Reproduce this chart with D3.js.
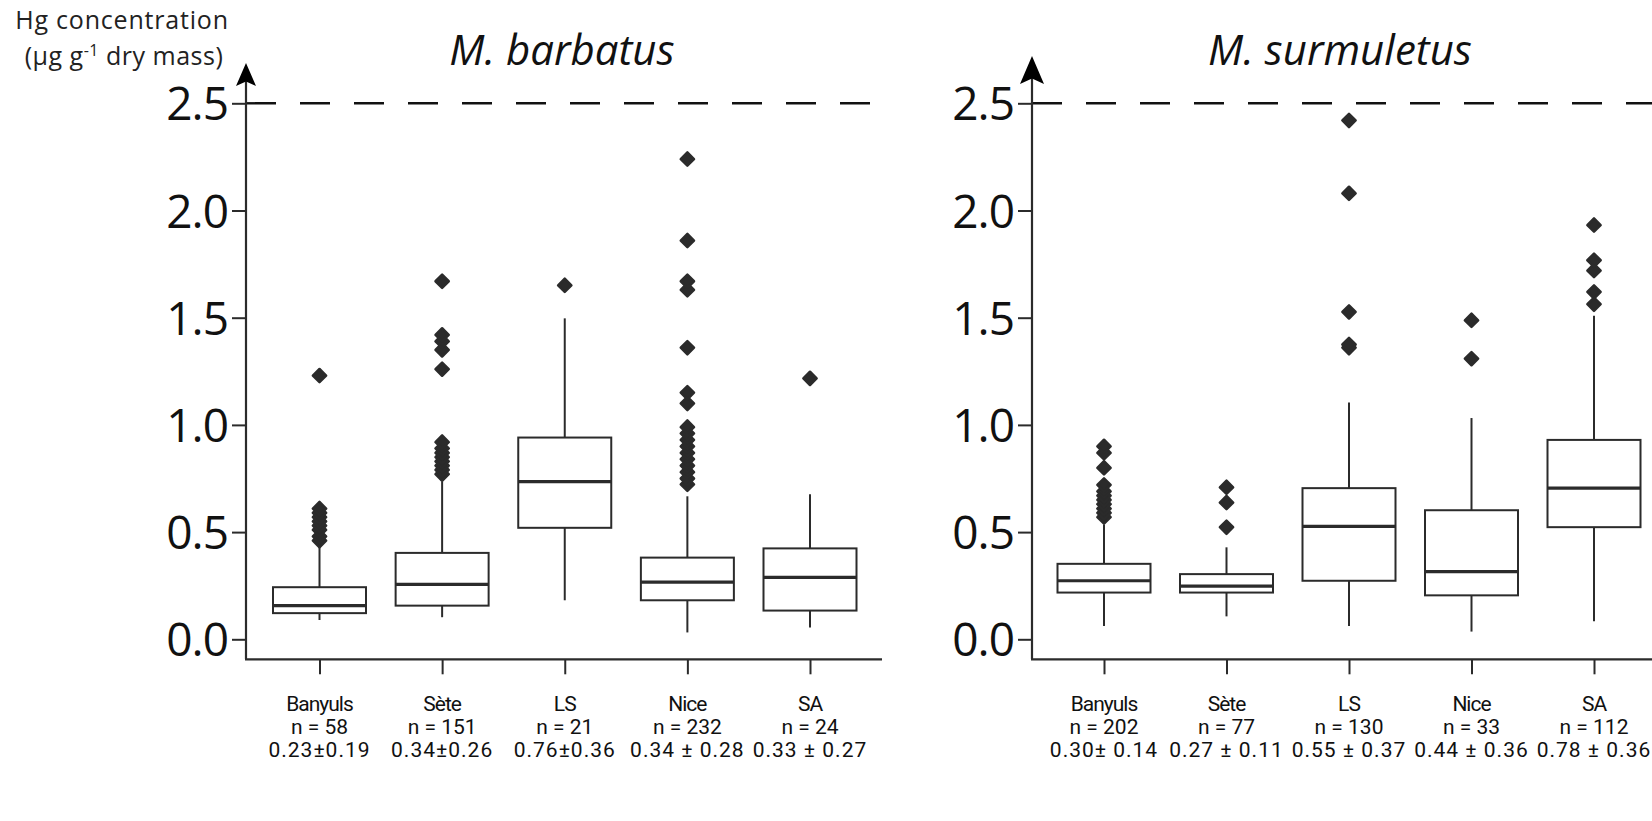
<!DOCTYPE html>
<html>
<head>
<meta charset="utf-8">
<script src="https://cdn.jsdelivr.net/npm/d3@7"></script>
<style>
  body { margin: 0; background: #fff; }
  svg { display: block; }
</style>
</head>
<body>
<svg id="chart" width="1652" height="821"></svg>
<script>
// categories and tick values
var sites = ["Banyuls", "Sète", "LS", "Nice", "SA"];
var yTicks = [0, 0.5, 1.0, 1.5, 2.0, 2.5];
var limitValue = 2.5;

// M. barbatus
var barbatusN = [58, 151, 21, 232, 24];
var barbatusMean = ["0.23±0.19", "0.34±0.26", "0.76±0.36", "0.34 ± 0.28", "0.33 ± 0.27"];
var barbatusLow = [0.09, 0.103, 0.182, 0.032, 0.055];
var barbatusQ1 = [0.122, 0.157, 0.52, 0.182, 0.134];
var barbatusMed = [0.157, 0.256, 0.735, 0.267, 0.289];
var barbatusQ3 = [0.243, 0.403, 0.941, 0.381, 0.424];
var barbatusHigh = [0.443, 0.735, 1.497, 0.667, 0.677];
var barbatusOut = [
  [0.46, 0.48, 0.51, 0.53, 0.55, 0.57, 0.59, 0.61, 1.23],
  [0.77, 0.79, 0.81, 0.83, 0.85, 0.87, 0.89, 0.92, 1.26, 1.35, 1.39, 1.42, 1.67],
  [1.651],
  [0.723, 0.75, 0.78, 0.81, 0.84, 0.87, 0.90, 0.93, 0.96, 0.99, 1.10, 1.15, 1.36, 1.63, 1.67, 1.86, 2.24],
  [1.217]
];

// M. surmuletus
var surmuletusN = [202, 77, 130, 33, 112];
var surmuletusMean = ["0.30± 0.14", "0.27 ± 0.11", "0.55 ± 0.37", "0.44 ± 0.36", "0.78 ± 0.36"];
var surmuletusLow = [0.0625, 0.107, 0.0625, 0.036, 0.084];
var surmuletusQ1 = [0.218, 0.218, 0.273, 0.205, 0.523];
var surmuletusMed = [0.273, 0.248, 0.527, 0.316, 0.705];
var surmuletusQ3 = [0.352, 0.304, 0.705, 0.602, 0.93];
var surmuletusHigh = [0.536, 0.429, 1.104, 1.032, 1.509];
var surmuletusOut = [
  [0.57, 0.59, 0.61, 0.63, 0.65, 0.67, 0.69, 0.72, 0.80, 0.87, 0.90],
  [0.523, 0.638, 0.709],
  [1.36, 1.375, 1.527, 2.08, 2.42],
  [1.309, 1.488],
  [1.563, 1.62, 1.72, 1.768, 1.932]
];

var ink = "#2b2b2b";
var svg = d3.select("#chart");

var y = d3.scaleLinear().domain([0, 2.5]).range([639.3, 103.3]);
var xAxisY = 659.3;
var boxWidth = 93;

var panels = [
  { title: "M. barbatus", titleX: 562, axisX: 246, xEnd: 882, dashEnd: 874, first: 319.5, last: 810,
    arrowTip: 63, arrowH: 23, arrowW: 20,
    n: barbatusN, mean: barbatusMean, low: barbatusLow, q1: barbatusQ1, med: barbatusMed,
    q3: barbatusQ3, high: barbatusHigh, out: barbatusOut },
  { title: "M. surmuletus", titleX: 1340, axisX: 1032, xEnd: 1652, dashEnd: 1652, first: 1104, last: 1594,
    arrowTip: 56, arrowH: 28, arrowW: 24,
    n: surmuletusN, mean: surmuletusMean, low: surmuletusLow, q1: surmuletusQ1, med: surmuletusMed,
    q3: surmuletusQ3, high: surmuletusHigh, out: surmuletusOut }
];

// y axis title, two lines
var titleFont = { family: "'Open Sans', sans-serif", size: "25px" };
svg.append("text")
  .attr("x", 122).attr("y", 29)
  .attr("text-anchor", "middle")
  .style("font-family", titleFont.family)
  .style("font-size", titleFont.size)
  .style("letter-spacing", "0.8px")
  .style("fill", "#222")
  .text("Hg concentration");
var line2 = svg.append("text")
  .attr("x", 124).attr("y", 65)
  .attr("text-anchor", "middle")
  .style("font-family", titleFont.family)
  .style("font-size", titleFont.size)
  .style("letter-spacing", "0.5px")
  .style("fill", "#222");
line2.append("tspan").text("(µg g");
line2.append("tspan").attr("dy", -9).style("font-size", "16px").text("-1");
line2.append("tspan").attr("dy", 9).text(" dry mass)");

panels.forEach(function (p) {
  var g = svg.append("g");
  var x = d3.scalePoint().domain(sites).range([p.first, p.last]);

  // title
  g.append("text")
    .attr("x", p.titleX)
    .attr("y", 65)
    .attr("text-anchor", "middle")
    .style("font-family", "'Open Sans', sans-serif")
    .style("font-style", "italic")
    .style("font-size", "42px")
    .style("fill", "#111")
    .text(p.title);

  // limit line
  g.append("line")
    .attr("x1", p.axisX)
    .attr("x2", p.dashEnd)
    .attr("y1", y(limitValue))
    .attr("y2", y(limitValue))
    .attr("stroke", "#111")
    .attr("stroke-width", 2.4)
    .attr("stroke-dasharray", "30,24");

  // y axis
  var yAxis = d3.axisLeft(y).tickValues(yTicks).tickSize(14).tickPadding(4)
    .tickFormat(d3.format(".1f"));
  var ya = g.append("g")
    .attr("transform", "translate(" + p.axisX + ",0)")
    .call(yAxis);
  ya.select(".domain").remove();
  ya.selectAll(".tick line").attr("stroke", ink).attr("stroke-width", 2);
  ya.selectAll(".tick text")
    .style("font-family", "'Open Sans', sans-serif")
    .style("font-size", "46px")
    .style("letter-spacing", "-1px")
    .attr("fill", "#111")
    .attr("dy", "0.36em");

  g.append("line")
    .attr("x1", p.axisX).attr("x2", p.axisX)
    .attr("y1", xAxisY).attr("y2", p.arrowTip + p.arrowH * 0.6)
    .attr("stroke", ink).attr("stroke-width", 2.2);
  g.append("path")
    .attr("d", "M" + p.axisX + "," + p.arrowTip +
      "L" + (p.axisX + p.arrowW / 2) + "," + (p.arrowTip + p.arrowH) +
      "L" + p.axisX + "," + (p.arrowTip + p.arrowH * 0.8) +
      "L" + (p.axisX - p.arrowW / 2) + "," + (p.arrowTip + p.arrowH) + "Z")
    .attr("fill", "#000");

  // x axis
  var xAxis = d3.axisBottom(x).tickSize(15).tickSizeOuter(0).tickFormat("");
  var xa = g.append("g")
    .attr("transform", "translate(0," + xAxisY + ")")
    .call(xAxis);
  xa.select(".domain").remove();
  xa.selectAll(".tick line").attr("stroke", ink).attr("stroke-width", 2);
  g.append("line")
    .attr("x1", p.axisX - 1).attr("x2", p.xEnd)
    .attr("y1", xAxisY).attr("y2", xAxisY)
    .attr("stroke", ink).attr("stroke-width", 2.2);

  var labels = g.selectAll(".site-label")
    .data(sites)
    .enter()
    .append("text")
    .attr("class", "site-label")
    .attr("text-anchor", "middle")
    .style("font-family", "Roboto, sans-serif")
    .style("font-size", "21px")
    .style("fill", "#111");
  labels.append("tspan").attr("x", function (d) { return x(d); }).attr("y", 711)
    .style("letter-spacing", "-1px")
    .text(function (d) { return d; });
  labels.append("tspan").attr("x", function (d) { return x(d); }).attr("y", 734)
    .text(function (d, i) { return "n = " + p.n[i]; });
  labels.append("tspan").attr("x", function (d) { return x(d); }).attr("y", 757)
    .style("letter-spacing", "1px")
    .text(function (d, i) { return p.mean[i]; });

  // boxes
  var boxes = g.selectAll(".box")
    .data(sites)
    .enter()
    .append("g")
    .attr("class", "box");

  boxes.append("line")
    .attr("x1", function (d) { return x(d); })
    .attr("x2", function (d) { return x(d); })
    .attr("y1", function (d, i) { return y(p.q3[i]); })
    .attr("y2", function (d, i) { return y(p.high[i]); })
    .attr("stroke", ink).attr("stroke-width", 2);
  boxes.append("line")
    .attr("x1", function (d) { return x(d); })
    .attr("x2", function (d) { return x(d); })
    .attr("y1", function (d, i) { return y(p.q1[i]); })
    .attr("y2", function (d, i) { return y(p.low[i]); })
    .attr("stroke", ink).attr("stroke-width", 2);
  boxes.append("rect")
    .attr("x", function (d) { return x(d) - boxWidth / 2; })
    .attr("width", boxWidth)
    .attr("y", function (d, i) { return y(p.q3[i]); })
    .attr("height", function (d, i) { return y(p.q1[i]) - y(p.q3[i]); })
    .attr("fill", "#fff")
    .attr("stroke", ink).attr("stroke-width", 2);
  boxes.append("line")
    .attr("x1", function (d) { return x(d) - boxWidth / 2; })
    .attr("x2", function (d) { return x(d) + boxWidth / 2; })
    .attr("y1", function (d, i) { return y(p.med[i]); })
    .attr("y2", function (d, i) { return y(p.med[i]); })
    .attr("stroke", ink).attr("stroke-width", 3.2);

  // outliers
  var diamond = d3.symbol().type(d3.symbolSquare).size(88);
  sites.forEach(function (s, i) {
    g.selectAll(null)
      .data(p.out[i])
      .enter()
      .append("path")
      .attr("d", diamond)
      .attr("transform", function (v) {
        return "translate(" + x(s) + "," + y(v) + ") rotate(45)";
      })
      .attr("fill", ink)
      .attr("stroke", ink)
      .attr("stroke-width", 2.5)
      .attr("stroke-linejoin", "round");
  });
});
</script>
</body>
</html>
